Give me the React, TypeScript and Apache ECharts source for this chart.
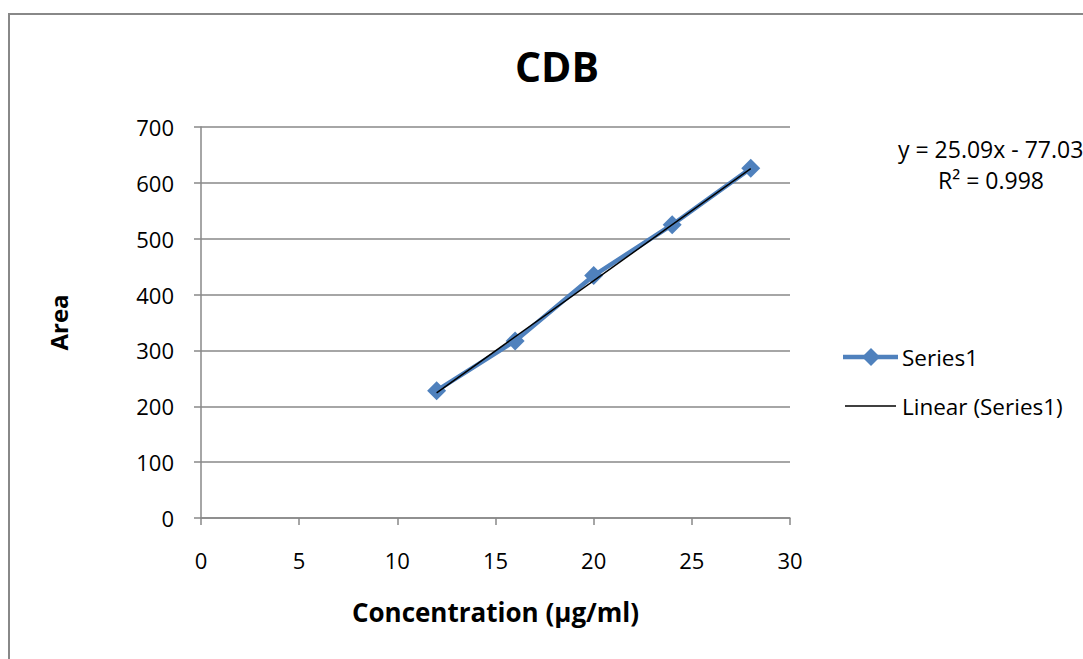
import React, { useEffect, useRef } from "react";
import * as echarts from "echarts";

const concentrations = [12, 16, 20, 24, 28];
const areas = [228, 317, 434, 525, 626];
const slope = 25.09;
const intercept = -77.03;
const trendX = [12, 28];
const xTicks = [0, 5, 10, 15, 20, 25, 30];
const yTicks = [0, 100, 200, 300, 400, 500, 600, 700];

const FONT = "'Open Sans', 'Liberation Sans', sans-serif";

export default function App() {
  const ref = useRef<HTMLDivElement>(null);
  useEffect(() => {
    if (!ref.current) return;
    const chart = echarts.init(ref.current, null, { renderer: "svg" });
    const seriesData = concentrations.map((x, i) => [x, areas[i]]);
    const trendData = trendX.map((x) => [x, slope * x + intercept]);
    chart.setOption({
      animation: false,
      backgroundColor: "#ffffff",
      title: {
        text: "CDB",
        left: 552,
        textAlign: "center",
        top: 40,
        textStyle: { fontFamily: FONT, fontSize: 41, fontWeight: "bold", color: "#000" },
      },
      grid: { left: 201, right: 293, top: 127, bottom: 141, containLabel: false },
      xAxis: {
        type: "value",
        min: xTicks[0],
        max: xTicks[xTicks.length - 1],
        interval: 5,
        name: "Concentration (µg/ml)",
        nameLocation: "middle",
        nameGap: 81,
        nameTextStyle: { fontFamily: FONT, fontSize: 26, fontWeight: "bold", color: "#000" },
        axisLine: { show: true, lineStyle: { color: "#888", width: 1.5 } },
        axisTick: { show: true, length: 7, inside: false, lineStyle: { color: "#888", width: 1.5 } },
        axisLabel: { fontFamily: FONT, fontSize: 22, color: "#000", margin: 31 },
        splitLine: { show: false },
      },
      yAxis: {
        type: "value",
        min: yTicks[0],
        max: yTicks[yTicks.length - 1],
        interval: 100,
        name: "Area",
        nameLocation: "middle",
        nameGap: 131,
        nameRotate: 90,
        nameTextStyle: { fontFamily: FONT, fontSize: 24, fontWeight: "bold", color: "#000" },
        axisLine: { show: true, lineStyle: { color: "#888", width: 1.5 } },
        axisTick: { show: true, length: 7, lineStyle: { color: "#888", width: 1.5 } },
        axisLabel: { fontFamily: FONT, fontSize: 22, color: "#000", margin: 27 },
        splitLine: { show: true, lineStyle: { color: "#888", width: 1.5 } },
      },
      legend: { show: false },
      series: [
        {
          name: "Series1",
          type: "line",
          data: seriesData,
          symbol: "diamond",
          symbolSize: 19,
          lineStyle: { color: "#4F81BD", width: 4.5 },
          itemStyle: { color: "#4F81BD" },
          z: 2,
        },
        {
          name: "Linear (Series1)",
          type: "line",
          data: trendData,
          symbol: "none",
          lineStyle: { color: "#000", width: 1.5 },
          z: 3,
        },
      ],
      graphic: [
        {
          type: "rect",
          shape: { x: 9, y: 14, width: 1200, height: 800 },
          style: { fill: "none", stroke: "#888", lineWidth: 2 },
          silent: true,
        },
        {
          type: "text",
          x: 898,
          y: 149,
          style: {
            text: "y = 25.09x - 77.03",
            fontFamily: FONT,
            fontSize: 23,
            fill: "#000",
            textVerticalAlign: "middle",
          },
        },
        {
          type: "text",
          x: 991,
          y: 180,
          style: {
            text: "R² = 0.998",
            fontFamily: FONT,
            fontSize: 23,
            fill: "#000",
            textAlign: "center",
            textVerticalAlign: "middle",
          },
        },
        {
          type: "line",
          shape: { x1: 843, y1: 357, x2: 898, y2: 357 },
          style: { stroke: "#4F81BD", lineWidth: 4.5 },
        },
        {
          type: "polygon",
          shape: { points: [[871, 348], [880, 357], [871, 366], [862, 357]] },
          style: { fill: "#4F81BD" },
        },
        {
          type: "text",
          x: 902,
          y: 357,
          style: { text: "Series1", fontFamily: FONT, fontSize: 22.5, fill: "#000", textVerticalAlign: "middle" },
        },
        {
          type: "line",
          shape: { x1: 845, y1: 406, x2: 896, y2: 406 },
          style: { stroke: "#000", lineWidth: 1.5 },
        },
        {
          type: "text",
          x: 902,
          y: 406,
          style: { text: "Linear (Series1)", fontFamily: FONT, fontSize: 22.5, fill: "#000", textVerticalAlign: "middle" },
        },
      ],
    });
    return () => chart.dispose();
  }, []);
  return (
    <div
      ref={ref}
      style={{ position: "fixed", left: 0, top: 0, width: 1083, height: 659 }}
    />
  );
}
